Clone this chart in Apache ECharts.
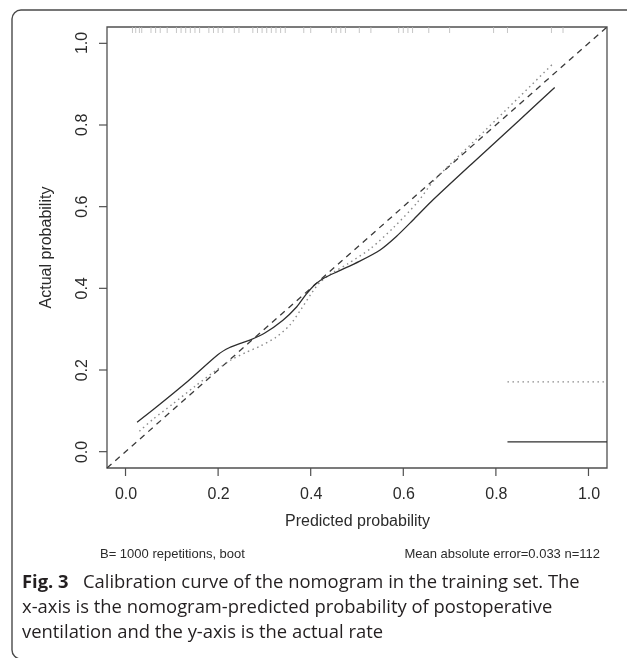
<!DOCTYPE html>
<html>
<head>
<meta charset="utf-8">
<script src="https://cdn.jsdelivr.net/npm/echarts@6/dist/echarts.min.js"></script>
<style>
  html, body { margin: 0; padding: 0; background: #fff; }
  #chart { width: 627px; height: 658px; }
</style>
</head>
<body>
<div id="chart"></div>
<script>
// tick values on both axes
const tickValues = [0, 0.2, 0.4, 0.6, 0.8, 1.0]

// ideal line y = x across the whole plot range
const idealX = [-0.04, 1.04]

// apparent calibration (dotted)
const apparentX = [0.03, 0.06, 0.10, 0.15, 0.20, 0.23, 0.26, 0.29, 0.325, 0.355, 0.38, 0.40, 0.42, 0.45, 0.48, 0.53, 0.58, 0.63, 0.667, 0.75, 0.85, 0.925]
const apparentY = [0.05, 0.08, 0.115, 0.16, 0.203, 0.226, 0.243, 0.258, 0.28, 0.31, 0.35, 0.385, 0.415, 0.44, 0.46, 0.498, 0.55, 0.61, 0.665, 0.757, 0.868, 0.952]

// bias-corrected calibration (solid)
const biasX = [0.025, 0.06, 0.13, 0.20, 0.225, 0.25, 0.27, 0.30, 0.34, 0.37, 0.39, 0.41, 0.43, 0.46, 0.505, 0.55, 0.585, 0.62, 0.66, 0.75, 0.85, 0.927]
const biasY = [0.072, 0.103, 0.168, 0.238, 0.255, 0.266, 0.274, 0.29, 0.322, 0.355, 0.385, 0.41, 0.426, 0.442, 0.466, 0.494, 0.527, 0.566, 0.612, 0.707, 0.811, 0.892]

// legend key segments (text falls outside the plot)
const keyX = [0.825, 1.04]
const keyApparentY = 0.171
const keyBiasY = 0.024

// rug of predicted probabilities along the top
const rugX = [0.015, 0.022, 0.03, 0.035, 0.055, 0.065, 0.075, 0.09, 0.11, 0.12, 0.13, 0.14, 0.15, 0.16,
  0.18, 0.19, 0.20, 0.21, 0.235, 0.245, 0.275, 0.285, 0.295, 0.305, 0.315, 0.325, 0.335, 0.345,
  0.385, 0.40, 0.445, 0.455, 0.465, 0.475, 0.505, 0.53, 0.59, 0.60, 0.61, 0.62, 0.655, 0.70,
  0.795, 0.825, 0.92, 0.945]

const zip = (xs, ys) => xs.map((x, i) => [x, ys[i]])

const axisFont = 'Liberation Sans'
const axisColor = '#2b2b2b'
const frameColor = '#505050'
const lo = -0.04
const hi = 1.04

const labelStyle = {
  fontFamily: axisFont,
  fontSize: 16,
  color: axisColor,
  formatter: (v) => v.toFixed(1)
}
const nameStyle = { fontFamily: axisFont, fontSize: 16, color: axisColor }

var chart = echarts.init(document.getElementById('chart'))

var baseGraphic = [
  {
    // figure card outline
    type: 'rect',
    shape: { x: 12, y: 10, width: 640, height: 649, r: 9 },
    style: { fill: 'none', stroke: '#4a4a4a', lineWidth: 1.4 },
    z: -1
  },
  {
    type: 'text',
    x: 100,
    y: 554,
    style: {
      text: 'B= 1000 repetitions, boot',
      font: '13px "Liberation Sans"',
      fill: '#2b2b2b',
      verticalAlign: 'middle'
    }
  },
  {
    type: 'text',
    x: 600,
    y: 554,
    style: {
      text: 'Mean absolute error=0.033 n=112',
      font: '13px "Liberation Sans"',
      fill: '#2b2b2b',
      align: 'right',
      verticalAlign: 'middle'
    }
  },
  {
    type: 'text',
    x: 22,
    y: 570,
    style: {
      text: '{b|Fig. 3}   Calibration curve of the nomogram in the training set. The\nx-axis is the nomogram-predicted probability of postoperative\nventilation and the y-axis is the actual rate',
      font: '18.4px "Open Sans"',
      fill: '#231f20',
      lineHeight: 25,
      verticalAlign: 'top',
      rich: {
        b: { fontFamily: 'Open Sans', fontSize: 18.4, fontWeight: 'bold', fill: '#231f20', lineHeight: 25 }
      }
    }
  }
]

// grid 0: plot box, padded 4% like R (-0.04 .. 1.04), holds the data
// grid 1 / grid 2: 0..1 span, only used to place labels and axis titles
var option = {
  animation: false,
  grid: [
    { left: 107, top: 27, width: 500, height: 441, show: true, borderColor: frameColor, borderWidth: 1.3 },
    { left: 126, top: 27, width: 463, height: 441 },
    { left: 107, top: 43, width: 500, height: 409 }
  ],
  xAxis: [
    { gridIndex: 0, type: 'value', min: lo, max: hi, show: false },
    {
      gridIndex: 1,
      type: 'value',
      min: 0,
      max: 1,
      interval: 0.2,
      name: 'Predicted probability',
      nameLocation: 'middle',
      nameGap: 46,
      nameTextStyle: nameStyle,
      axisLine: { show: false },
      axisTick: { show: false },
      axisLabel: Object.assign({ margin: 19 }, labelStyle),
      splitLine: { show: false }
    },
    { gridIndex: 2, type: 'value', min: 0, max: 1, show: false }
  ],
  yAxis: [
    { gridIndex: 0, type: 'value', min: lo, max: hi, show: false },
    { gridIndex: 1, type: 'value', min: 0, max: 1, show: false },
    {
      gridIndex: 2,
      type: 'value',
      min: 0,
      max: 1,
      interval: 0.2,
      name: 'Actual probability',
      nameLocation: 'middle',
      nameRotate: 90,
      nameGap: 52,
      nameTextStyle: nameStyle,
      axisLine: { show: false },
      axisTick: { show: false },
      axisLabel: Object.assign({ margin: 16, rotate: 90 }, labelStyle),
      splitLine: { show: false }
    }
  ],
  graphic: { elements: baseGraphic },
  series: [
    {
      name: 'Ideal',
      type: 'line',
      data: zip(idealX, idealX),
      showSymbol: false,
      silent: true,
      lineStyle: { color: '#3a3a3a', width: 1.3, type: [6, 5] }
    },
    {
      name: 'Apparent',
      type: 'line',
      data: zip(apparentX, apparentY),
      showSymbol: false,
      smooth: 0.25,
      silent: true,
      lineStyle: { color: '#8a8a8a', width: 1.4, type: [1.5, 3.5] }
    },
    {
      name: 'Bias-corrected',
      type: 'line',
      data: zip(biasX, biasY),
      showSymbol: false,
      smooth: 0.25,
      silent: true,
      lineStyle: { color: '#2e2e2e', width: 1.3 }
    },
    {
      type: 'line',
      data: keyX.map((x) => [x, keyApparentY]),
      showSymbol: false,
      silent: true,
      lineStyle: { color: '#8a8a8a', width: 1.4, type: [1.5, 3.5] }
    },
    {
      type: 'line',
      data: keyX.map((x) => [x, keyBiasY]),
      showSymbol: false,
      silent: true,
      lineStyle: { color: '#2e2e2e', width: 1.3 }
    },
    {
      // rug along the top edge
      type: 'scatter',
      data: rugX.map((x) => [x, hi]),
      symbol: 'rect',
      symbolSize: [1, 6],
      symbolOffset: [0, 3],
      clip: false,
      silent: true,
      itemStyle: { color: '#b8b8b8' }
    }
  ]
}

chart.setOption(option)

// tick marks outside the box, placed through the data grid's scales
var tickEls = []
tickValues.forEach((v) => {
  const px = chart.convertToPixel({ xAxisIndex: 0, yAxisIndex: 0 }, [v, lo])
  tickEls.push({
    type: 'line',
    shape: { x1: px[0], y1: px[1], x2: px[0], y2: px[1] + 8 },
    style: { stroke: frameColor, lineWidth: 1.2 }
  })
  const py = chart.convertToPixel({ xAxisIndex: 0, yAxisIndex: 0 }, [lo, v])
  tickEls.push({
    type: 'line',
    shape: { x1: py[0] - 8, y1: py[1], x2: py[0], y2: py[1] },
    style: { stroke: frameColor, lineWidth: 1.2 }
  })
})
chart.setOption({ graphic: { elements: baseGraphic.concat(tickEls) } })
</script>
</body>
</html>
